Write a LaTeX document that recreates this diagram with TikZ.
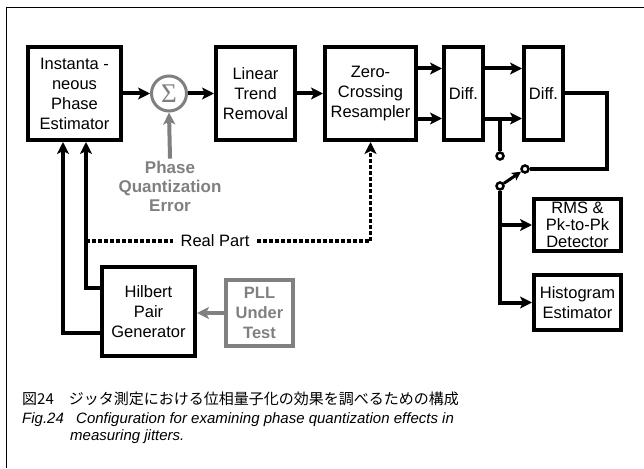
\documentclass[tikz,border=0pt]{standalone}
\usepackage{fontspec}
\setmainfont{Liberation Sans}
\newfontfamily\jpfont{Noto Sans CJK JP}
\newfontfamily\grfont{Liberation Serif}
\usetikzlibrary{arrows.meta,calc}
\definecolor{gr}{HTML}{808080}
\begin{document}
\begin{tikzpicture}[x=1pt,y=-1pt,
  blk/.style={draw, line width=4pt, align=center, font=\fontsize{16.5}{20}\selectfont, inner sep=0pt},
  gblk/.style={blk, draw=gr, text=gr, line width=3.5pt, font=\bfseries\fontsize{16.5}{20}\selectfont},
  arr/.style={line width=4pt, -{Stealth[length=12pt,width=12pt,inset=3pt]}},
  ln/.style={line width=4pt},
  garr/.style={arr, draw=gr, color=gr},
  dotl/.style={line width=3.5pt, dash pattern=on 4pt off 2pt},
  sw/.style={circle, draw, line width=2.5pt, fill=white, minimum size=7pt, inner sep=0pt},
]
\useasboundingbox (0,0) rectangle (644,468);
\draw[line width=1pt] (6,468) -- (6,8) -- (644,8);

\node[blk, minimum width=93pt, minimum height=93pt] (ipe) at (74.5,93.5) {Instanta -\\neous\\Phase\\Estimator};
\node[circle, draw=gr, line width=3pt, minimum size=35pt, inner sep=0pt, text=gr, font=\grfont\fontsize{27}{27}\selectfont] (sum) at (169,93.5) {Σ};
\node[blk, minimum width=79pt, minimum height=93pt] (ltr) at (255.5,93.5) {Linear\\Trend\\Removal};
\node[blk, minimum width=91pt, minimum height=93pt] (zcr) at (370.5,93.5) {Zero-\\Crossing\\Resampler};
\node[blk, minimum width=39pt, minimum height=93pt] (d1) at (463.5,93.5) {Diff.};
\node[blk, minimum width=39pt, minimum height=93pt] (d2) at (543.5,93.5) {Diff.};
\node[blk, minimum width=87pt, minimum height=52pt, font=\fontsize{16.5}{17}\selectfont] (rms) at (577.5,225) {RMS \&\\Pk-to-Pk\\Detector};
\node[blk, minimum width=87pt, minimum height=55pt] (hist) at (577.5,302.5) {Histogram\\Estimator};
\node[blk, minimum width=93pt, minimum height=89pt] (hpg) at (148.5,311.5) {Hilbert\\Pair\\Generator};
\node[gblk, minimum width=67pt, minimum height=66pt] (pll) at (259.5,313) {PLL\\Under\\Test};
\node[text=gr, font=\bfseries\fontsize{17}{19}\selectfont, align=center, inner sep=2pt] (pqe) at (170,186) {Phase\\Quantization\\Error};
\node[font=\fontsize{16.5}{20}\selectfont, inner xsep=7pt, inner ysep=2pt] (rp) at (215,241) {Real Part};

\node[sw] (swa) at (500,156) {};
\node[sw] (swb) at (525,169) {};
\node[sw] (swc) at (500,186) {};

\draw[arr] (ipe.east) -- (sum.west);
\draw[arr] (sum.east) -- (ltr.west);
\draw[arr] (ltr.east) -- (zcr.west);
\draw[arr] ([yshift=25pt]zcr.east) -- ([yshift=25pt]d1.west);
\draw[arr] ([yshift=-25pt]zcr.east) -- ([yshift=-25pt]d1.west);
\draw[arr] ([yshift=25pt]d1.east) -- ([yshift=25pt]d2.west);
\draw[arr] ([yshift=-25pt]d1.east) -- ([yshift=-25pt]d2.west);
\coordinate (tap) at (500,118.5);
\draw[ln] (tap) -- (swa);
\draw[ln] (d2.east) -- ++(41.5,0) |- (swb);
\draw[line width=3pt, -{Stealth[length=9pt,width=9pt,inset=2pt]}] (swc) -- (swb);
\draw[arr] (swc) |- (hist.west);
\draw[arr] (swc |- rms.west) -- (rms.west);

\draw[arr] ([yshift=23.5pt]hpg.west) -| ([xshift=11.5pt]ipe.south);
\draw[arr] ([yshift=-21.5pt]hpg.west) -| ([xshift=-11.5pt]ipe.south);
\draw[garr] (pll.west) -- (pll.west -| hpg.east);
\draw[garr] (pqe.north) -- (sum.south);

\coordinate (rp0) at (86,241);
\draw[dotl] (rp0) -- (rp.west);
\draw[dotl, -{Stealth[length=12pt,width=12pt,inset=3pt]}] (rp.east) -| (zcr.south);

\node[anchor=base west, font=\jpfont\fontsize{15}{15}\selectfont, inner sep=0pt] (cj) at (22,404) {図24　ジッタ測定における位相量子化の効果を調べるための構成};
\node[anchor=base west, font=\itshape\fontsize{15}{15}\selectfont, inner sep=0pt] (cf) at (22,423) {Fig.24};
\node[anchor=base west, font=\itshape\fontsize{15}{15}\selectfont, inner sep=0pt] (ct1) at (76,423) {Configuration for examining phase quantization effects in};
\node[anchor=base west, font=\itshape\fontsize{15}{15}\selectfont, inner sep=0pt] (ct2) at (70,440) {measuring jitters.};
\end{tikzpicture}
\end{document}
